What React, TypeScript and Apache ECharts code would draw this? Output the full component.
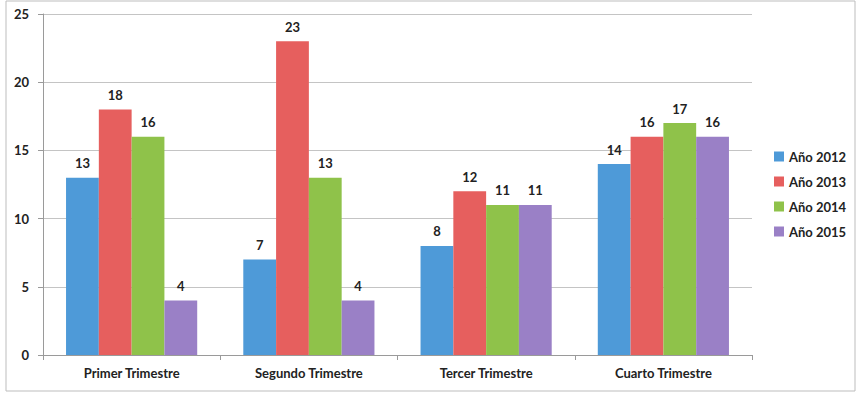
import React, { useEffect, useRef } from "react";
import * as echarts from "echarts";

const categories = ["Primer Trimestre", "Segundo Trimestre", "Tercer Trimestre", "Cuarto Trimestre"];
const seriesNames = ["Año 2012", "Año 2013", "Año 2014", "Año 2015"];
const v2012 = [13, 7, 8, 14];
const v2013 = [18, 23, 12, 16];
const v2014 = [16, 13, 11, 17];
const v2015 = [4, 4, 11, 16];
const colors = ["#4e9ad8", "#e65f5e", "#8fc24a", "#9a80c6"];

export default function App() {
  const ref = useRef<HTMLDivElement>(null);
  useEffect(() => {
    const chart = echarts.init(ref.current!, null, { renderer: "svg" });
    const data = [v2012, v2013, v2014, v2015];
    chart.setOption({
      animation: false,
      backgroundColor: "#ffffff",
      textStyle: { fontFamily: "Lato" },
      grid: { left: 43, right: 107, top: 14, bottom: 47 },
      graphic: [
        {
          type: "rect",
          shape: { x: 6, y: 1, width: 849, height: 390 },
          style: { fill: "none", stroke: "#bdbdbd", lineWidth: 1 },
          silent: true,
        },
      ],
      legend: {
        orient: "vertical",
        left: 769,
        top: 145,
        itemWidth: 10,
        itemHeight: 10,
        itemGap: 12,
        icon: "rect",
        textStyle: { fontFamily: "Lato", fontWeight: "bold", fontSize: 13, color: "#222" },
        data: seriesNames,
      },
      xAxis: {
        type: "category",
        data: categories,
        axisLine: { lineStyle: { color: "#9a9a9a" } },
        axisTick: { show: true, length: 5, lineStyle: { color: "#9a9a9a" } },
        axisLabel: { fontFamily: "Lato", fontWeight: "bold", fontSize: 13, color: "#222", margin: 11 },
      },
      yAxis: {
        type: "value",
        min: 0,
        max: 25,
        interval: 5,
        axisLine: { show: true, lineStyle: { color: "#9a9a9a" } },
        axisTick: { show: true, length: 5, lineStyle: { color: "#9a9a9a" } },
        axisLabel: { fontFamily: "Lato", fontWeight: "bold", fontSize: 13, color: "#222", margin: 14 },
        splitLine: { lineStyle: { color: "#c4c4c4" } },
      },
      series: seriesNames.map((name, i) => ({
        name,
        type: "bar",
        data: data[i],
        barGap: "0%",
        barCategoryGap: "26%",
        itemStyle: { color: colors[i] },
        label: {
          show: true,
          position: "top",
          distance: 8,
          fontFamily: "Lato",
          fontWeight: "bold",
          fontSize: 13,
          color: "#222",
        },
      })),
    });
    return () => chart.dispose();
  }, []);
  return <div ref={ref} style={{ position: "fixed", left: 0, top: 0, width: 859, height: 402 }} />;
}
